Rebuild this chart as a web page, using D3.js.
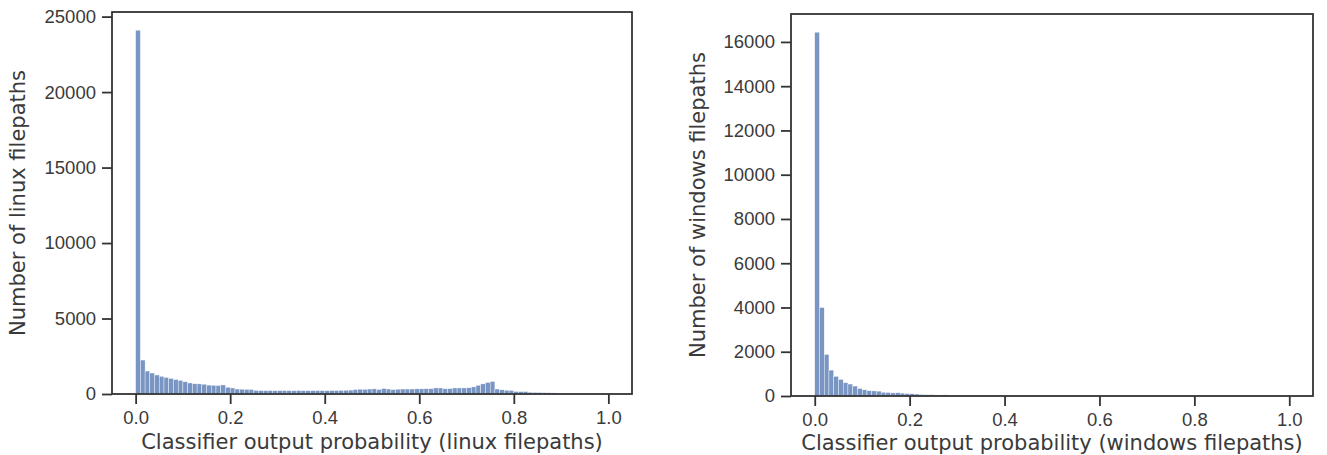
<!DOCTYPE html>
<meta charset="utf-8">
<body style="margin:0;background:#fff">
<script src="https://d3js.org/d3.v7.min.js"></script>
<script>

var width = 1327,
    height = 455;

// 100 bins of width 0.01 on [0, 1]
var binWidth = 0.01;
var xTicks = [0, 0.2, 0.4, 0.6, 0.8, 1.0];

var linuxCounts = [
  24100, 2250, 1520, 1390, 1260, 1170, 1100, 1030, 960, 900,
  810, 730, 680, 670, 650, 590, 580, 560, 600, 450,
  400, 330, 320, 310, 300, 240, 230, 225, 230, 220,
  225, 230, 225, 220, 230, 225, 220, 225, 230, 225,
  220, 230, 235, 240, 250, 260, 300, 320, 310, 330,
  340, 300, 360, 330, 290, 320, 330, 330, 330, 340,
  340, 350, 350, 400, 400, 350, 360, 400, 400, 400,
  410, 470, 580, 670, 760, 830, 330, 280, 250, 240,
  170, 160, 160, 120, 110, 100, 90, 80, 70, 60,
  20, 0, 0, 0, 0, 0, 0, 0, 0, 0
];

var windowsCounts = [
  16440, 4000, 1880, 1170, 890, 750, 600, 540, 450, 340,
  280, 240, 230, 220, 170, 160, 140, 150, 130, 110,
  100, 90, 70, 60, 60, 50, 40, 50, 0, 0,
  0, 0, 0, 0, 0, 0, 0, 0, 0, 0,
  0, 0, 0, 0, 0, 0, 0, 0, 0, 0,
  0, 0, 0, 0, 0, 0, 0, 0, 0, 0,
  0, 0, 0, 0, 0, 0, 0, 0, 0, 0,
  0, 0, 0, 0, 0, 0, 0, 0, 0, 0,
  0, 0, 0, 0, 0, 0, 0, 0, 0, 0,
  0, 0, 0, 0, 0, 0, 0, 0, 0, 0
];

var linuxYTicks = [0, 5000, 10000, 15000, 20000, 25000];
var windowsYTicks = [0, 2000, 4000, 6000, 8000, 10000, 12000, 14000, 16000];

var svg = d3.select("body").append("svg")
    .attr("width", width)
    .attr("height", height)
    .style("font-family", "DejaVu Sans");

function panel(opts) {
  var x = d3.scaleLinear().domain([-0.05, 1.05]).range([opts.left, opts.right]);
  var y = d3.scaleLinear()
      .domain([0, d3.max(opts.counts) * 1.05])
      .range([opts.bottom, opts.top]);

  var g = svg.append("g");

  g.selectAll("rect.bar")
    .data(opts.counts)
    .enter().append("rect")
      .attr("class", "bar")
      .attr("x", (d, i) => x(i * binWidth))
      .attr("width", x(binWidth) - x(0))
      .attr("y", d => y(d))
      .attr("height", d => y(0) - y(d))
      .attr("fill", "#4c72b0")
      .attr("fill-opacity", 0.75)
      .attr("stroke", "#fff")
      .attr("stroke-width", 0.4);

  var xAxis = g.append("g")
      .attr("transform", "translate(0," + opts.bottom + ")")
      .call(d3.axisBottom(x).tickValues(xTicks).tickFormat(d3.format(".1f"))
            .tickSize(10).tickPadding(7).tickSizeOuter(0));

  var yAxis = g.append("g")
      .attr("transform", "translate(" + opts.left + ",0)")
      .call(d3.axisLeft(y).tickValues(opts.yTicks).tickFormat(d3.format("d"))
            .tickSize(10).tickPadding(6).tickSizeOuter(0));

  [xAxis, yAxis].forEach(function(a) {
    a.select(".domain").remove();
    a.selectAll(".tick line").attr("stroke", "#333").attr("stroke-width", 1.8);
    a.selectAll(".tick text").attr("fill", "#3a3a3a").style("font-size", "18.5px");
  });

  // frame
  g.append("rect")
    .attr("x", opts.left)
    .attr("y", opts.top)
    .attr("width", opts.right - opts.left)
    .attr("height", opts.bottom - opts.top)
    .attr("fill", "none")
    .attr("stroke", "#333")
    .attr("stroke-width", 1.8);

  g.append("text")
    .attr("x", (opts.left + opts.right) / 2)
    .attr("y", opts.xLabelY)
    .attr("text-anchor", "middle")
    .attr("fill", "#3a3a3a")
    .style("font-size", "21px")
    .text(opts.xLabel);

  g.append("text")
    .attr("transform", "translate(" + opts.yLabelX + "," + (opts.top + opts.bottom) / 2 + ") rotate(-90)")
    .attr("text-anchor", "middle")
    .attr("fill", "#3a3a3a")
    .style("font-size", "21px")
    .text(opts.yLabel);
}

panel({
  counts: linuxCounts,
  yTicks: linuxYTicks,
  left: 112, right: 632, top: 12, bottom: 394,
  xLabel: "Classifier output probability (linux filepaths)",
  yLabel: "Number of linux filepaths",
  xLabelY: 449, yLabelX: 25
});

panel({
  counts: windowsCounts,
  yTicks: windowsYTicks,
  left: 791, right: 1313, top: 14, bottom: 396,
  xLabel: "Classifier output probability (windows filepaths)",
  yLabel: "Number of windows filepaths",
  xLabelY: 450, yLabelX: 705
});

</script>
